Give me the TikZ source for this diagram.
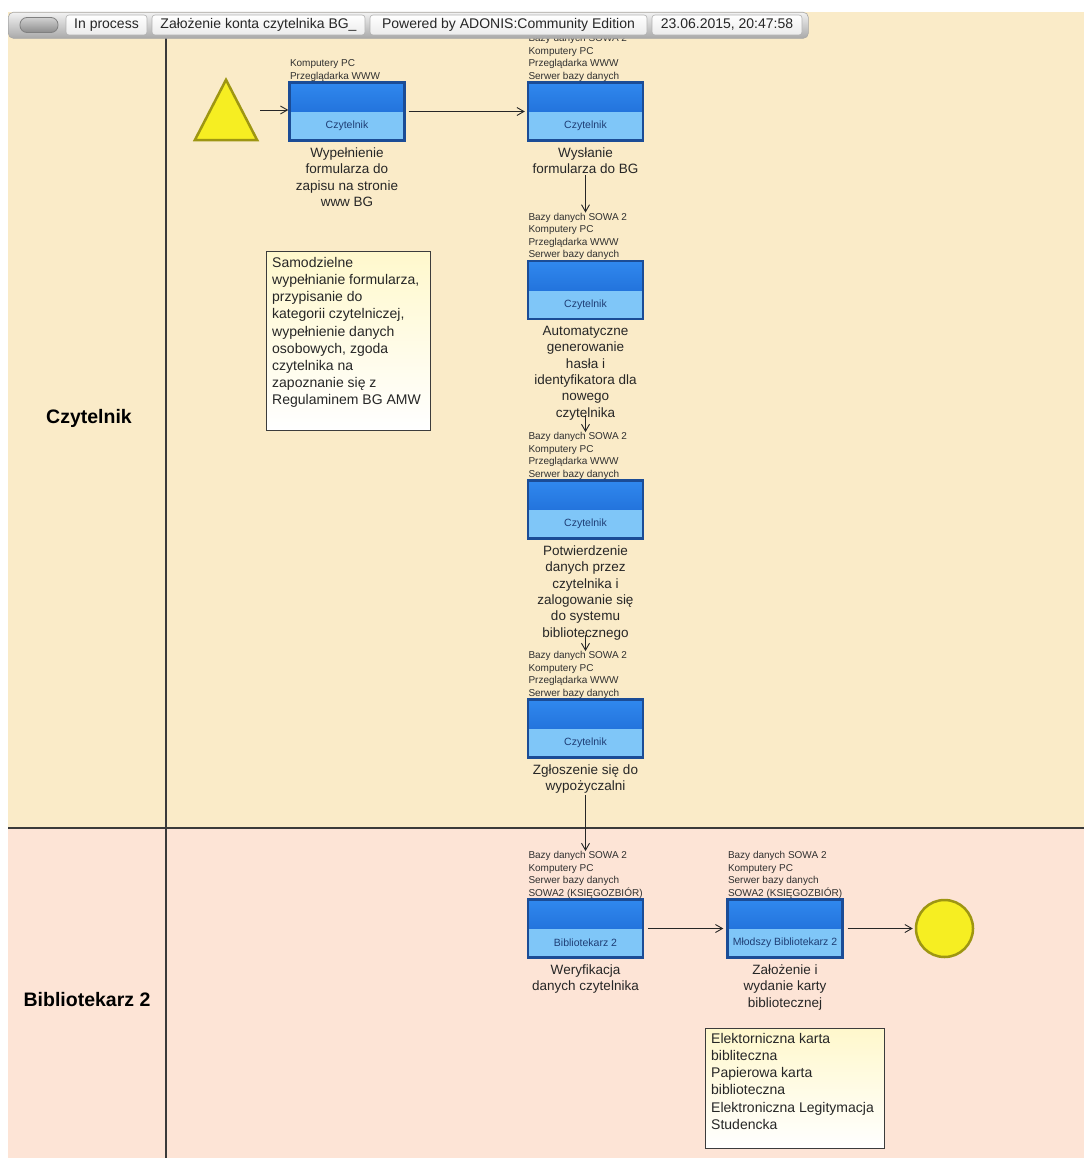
\documentclass[tikz,border=0pt]{standalone}
\usepackage{fontspec}
\setmainfont{Liberation Sans}
\usetikzlibrary{arrows.meta}

\definecolor{laneA}{HTML}{FAEBC8}
\definecolor{laneB}{HTML}{FDE4D6}
\definecolor{laneline}{HTML}{3A3A3A}
\definecolor{taskedge}{HTML}{1B4C96}
\definecolor{taskhiA}{HTML}{3088EE}
\definecolor{taskhiB}{HTML}{1660CC}
\definecolor{tasklow}{HTML}{7FC6F8}
\definecolor{roletext}{HTML}{1E3D74}
\definecolor{evfill}{HTML}{F6EE22}
\definecolor{evedge}{HTML}{9E9612}
\definecolor{notetop}{HTML}{FFF8CC}
\definecolor{noteedge}{HTML}{3C3C3C}
\definecolor{restext}{HTML}{303030}
\definecolor{lbltext}{HTML}{262626}
\definecolor{barTop}{HTML}{F2F2F2}
\definecolor{barBot}{HTML}{A9A9A9}

\begin{document}
\begin{tikzpicture}[x=1pt,y=-1pt,
  lanelbl/.style={font=\bfseries\fontsize{19.5}{23}\selectfont, text=black},
  task/.style={draw=taskedge, line width=2.4pt, fill=tasklow,
    minimum width=115pt, minimum height=58pt, inner sep=0pt,
    path picture={\shade[top color=taskhiA, bottom color=taskhiB]
      (path picture bounding box.north west) rectangle (path picture bounding box.east);}},
  role/.style={font=\fontsize{10.5}{12}\selectfont, text=roletext, inner sep=0pt},
  res/.style={font=\fontsize{10}{12.5}\selectfont, text=restext, align=left,
    inner sep=0pt, anchor=south west},
  lbl/.style={font=\fontsize{13.5}{16.3}\selectfont, text=lbltext, align=center,
    inner sep=1pt, anchor=north},
  flow/.style={draw=black!85, line width=0.9pt, -{Straight Barb[length=7pt,width=8pt]}},
  note/.style={draw=noteedge, line width=0.9pt, top color=notetop, bottom color=white,
    anchor=north west, inner sep=0pt},
  notetxt/.style={font=\fontsize{14}{17.2}\selectfont, text=black!85, align=left,
    anchor=north west, inner sep=0pt},
  event/.style={fill=evfill, draw=evedge, line width=2.5pt},
  tab/.style={draw=black!30, line width=0.6pt, rounded corners=3pt, top color=white,
    bottom color=black!8, minimum height=20pt, inner sep=0pt,
    font=\fontsize{14}{16}\selectfont, text=black!85}
]
\useasboundingbox (0,0) rectangle (1084,1158);

% swimlanes
\fill[laneA] (8,12) rectangle (1084,828);
\fill[laneB] (8,828) rectangle (1084,1158);
\draw[laneline, line width=1.3pt] (8,828) -- (1084,828);
\draw[laneline, line width=1.3pt] (166,38) -- (166,1158);
\node[lanelbl] (laneC) at (89,418) {Czytelnik};
\node[lanelbl] (laneL) at (87,1000) {Bibliotekarz 2};

% start event
\node[minimum width=62pt, minimum height=60pt, inner sep=0pt] (start) at (226,110) {};
\draw[event, line join=miter] (start.north) -- (start.south east) -- (start.south west) -- cycle;

% activities
\node[task] (t1) at (347,111.5) {};
\node[task] (t2) at (585.5,111.5) {};
\node[task] (t3) at (585.5,290) {};
\node[task] (t4) at (585.5,509.5) {};
\node[task] (t5) at (585.5,728.5) {};
\node[task] (t6) at (585.5,928.5) {};
\node[task] (t7) at (785,928.5) {};

\node[role] (t1r) at ([yshift=-14.5pt]t1.center) {Czytelnik};
\node[role] (t2r) at ([yshift=-14.5pt]t2.center) {Czytelnik};
\node[role] (t3r) at ([yshift=-14.5pt]t3.center) {Czytelnik};
\node[role] (t4r) at ([yshift=-14.5pt]t4.center) {Czytelnik};
\node[role] (t5r) at ([yshift=-14.5pt]t5.center) {Czytelnik};
\node[role] (t6r) at ([yshift=-14.5pt]t6.center) {Bibliotekarz 2};
\node[role] (t7r) at ([yshift=-14.5pt]t7.center) {Młodszy Bibliotekarz 2};

% resources
\node[res] (r1) at ([xshift=1.5pt]t1.north west) {Komputery PC\\Przeglądarka WWW};
\node[res] (r2) at ([xshift=1.5pt]t2.north west) {Bazy danych SOWA 2\\Komputery PC\\Przeglądarka WWW\\Serwer bazy danych};
\node[res] (r3) at ([xshift=1.5pt]t3.north west) {Bazy danych SOWA 2\\Komputery PC\\Przeglądarka WWW\\Serwer bazy danych};
\node[res] (r4) at ([xshift=1.5pt]t4.north west) {Bazy danych SOWA 2\\Komputery PC\\Przeglądarka WWW\\Serwer bazy danych};
\node[res] (r5) at ([xshift=1.5pt]t5.north west) {Bazy danych SOWA 2\\Komputery PC\\Przeglądarka WWW\\Serwer bazy danych};
\node[res] (r6) at ([xshift=1.5pt]t6.north west) {Bazy danych SOWA 2\\Komputery PC\\Serwer bazy danych\\SOWA2 (KSIĘGOZBIÓR)};
\node[res] (r7) at ([xshift=1.5pt]t7.north west) {Bazy danych SOWA 2\\Komputery PC\\Serwer bazy danych\\SOWA2 (KSIĘGOZBIÓR)};

% activity names
\node[lbl] (l1) at ([yshift=-5pt]t1.south) {Wypełnienie\\formularza do\\zapisu na stronie\\www BG};
\node[lbl] (l2) at ([yshift=-5pt]t2.south) {Wysłanie\\formularza do BG};
\node[lbl] (l3) at ([yshift=-5pt]t3.south) {Automatyczne\\generowanie\\hasła i\\identyfikatora dla\\nowego\\czytelnika};
\node[lbl] (l4) at ([yshift=-5pt]t4.south) {Potwierdzenie\\danych przez\\czytelnika i\\zalogowanie się\\do systemu\\bibliotecznego};
\node[lbl] (l5) at ([yshift=-5pt]t5.south) {Zgłoszenie się do\\wypożyczalni};
\node[lbl] (l6) at ([yshift=-5pt]t6.south) {Weryfikacja\\danych czytelnika};
\node[lbl] (l7) at ([yshift=-5pt]t7.south) {Założenie i\\wydanie karty\\bibliotecznej};

% end event
\node[event, circle, minimum size=57pt, inner sep=0pt] (end) at (944.5,928.5) {};

% sequence flows
\draw[flow, shorten <=3pt] (start.east) -- (start.east -| t1.west);
\draw[flow, shorten <=3pt, shorten >=2pt] (t1.east) -- (t2.west);
\draw[flow] (l2.south) -- (l2.south |- r3.north);
\draw[flow] ([yshift=6pt]l3.south) -- (l3.south |- r4.north);
\draw[flow] ([yshift=6pt]l4.south) -- (l4.south |- r5.north);
\draw[flow] (l5.south) -- (l5.south |- r6.north);
\draw[flow, shorten <=4pt, shorten >=3pt] (t6.east) -- (t7.west);
\draw[flow, shorten <=4pt, shorten >=2pt] (t7.east) -- (end.west);

% notes
\node[note, minimum width=164pt, minimum height=179pt] (n1) at (266,251) {};
\node[notetxt] (n1t) at ([xshift=6pt,yshift=-6pt]n1.north west)
  {Samodzielne\\wypełnianie formularza,\\przypisanie do\\kategorii czytelniczej,\\wypełnienie danych\\osobowych, zgoda\\czytelnika na\\zapoznanie się z\\Regulaminem BG AMW};
\node[note, minimum width=179pt, minimum height=120pt] (n2) at (705,1028) {};
\node[notetxt] (n2t) at ([xshift=6pt,yshift=-5pt]n2.north west)
  {Elektorniczna karta\\bibliteczna\\Papierowa karta\\biblioteczna\\Elektroniczna Legitymacja\\Studencka};

% status bar
\node[draw=black!35, line width=0.6pt, rounded corners=5pt, top color=barTop, bottom color=barBot,
  minimum width=800pt, minimum height=26pt, anchor=north west, inner sep=0pt] (bar) at (8,12) {};
\node[draw=black!50, line width=0.8pt, rounded corners=7pt, top color=black!18, bottom color=black!45,
  minimum width=38pt, minimum height=15pt, inner sep=0pt] (btn) at (39,25) {};
\node[tab, minimum width=81pt] (tabA) at (106.5,25) {In process};
\node[tab, minimum width=213pt] (tabB) at (258.5,25) {Założenie konta czytelnika BG\_};
\node[tab, minimum width=277pt] (tabC) at (508.5,25) {Powered by ADONIS:Community Edition};
\node[tab, minimum width=150pt] (tabD) at (727,25) {23.06.2015, 20:47:58};
\end{tikzpicture}
\end{document}
